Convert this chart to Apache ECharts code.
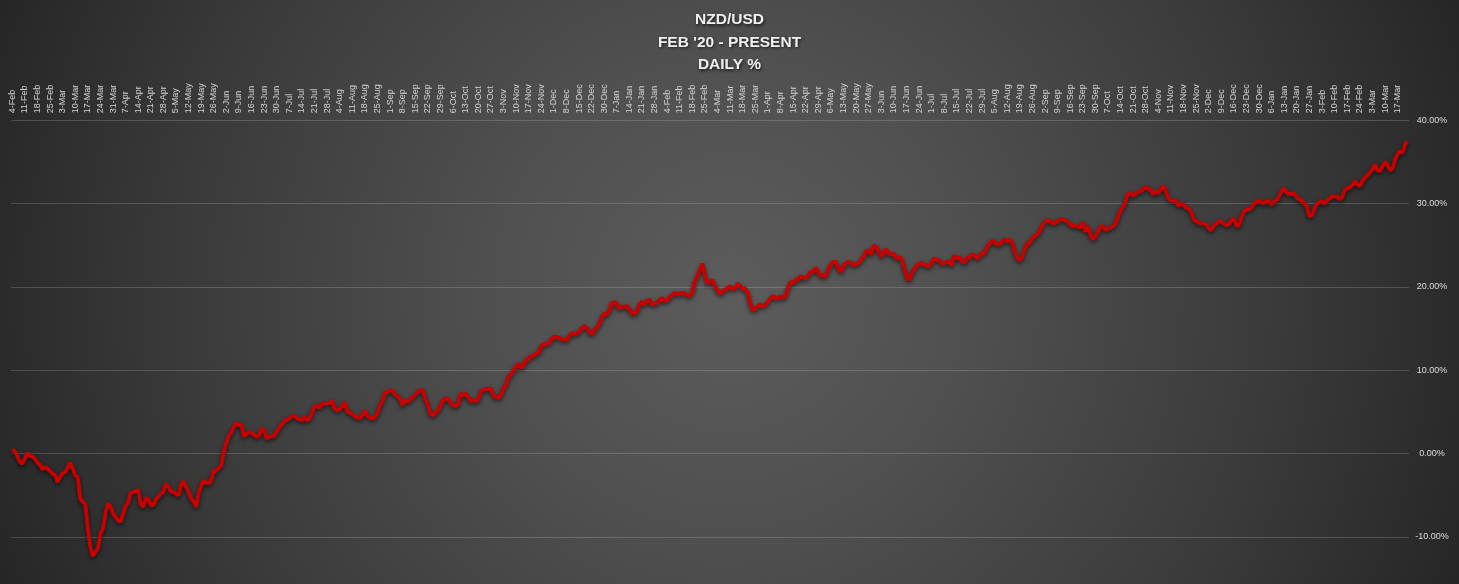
<!DOCTYPE html>
<html><head><meta charset="utf-8">
<script src="https://cdn.jsdelivr.net/npm/echarts@6/dist/echarts.min.js"></script>
<style>
html,body{margin:0;padding:0;width:1459px;height:584px;overflow:hidden;background:#333;}
#wrap{position:relative;width:1459px;height:584px;overflow:hidden;background:radial-gradient(circle farthest-corner at 50% 50%, #5c5c5c 0%, #505050 30%, #3a3a3a 70%, #262626 100%);}
#chart{position:absolute;left:0;top:0;width:1459px;height:660px;}
</style></head><body><div id="wrap"><div id="chart"></div></div>
<script>
// weekly tick labels (one every 5 trading days)
const weekLabels = ['4-Feb','11-Feb','18-Feb','25-Feb','3-Mar','10-Mar','17-Mar','24-Mar','31-Mar','7-Apr','14-Apr','21-Apr','28-Apr','5-May','12-May','19-May','26-May','2-Jun','9-Jun','16-Jun','23-Jun','30-Jun','7-Jul','14-Jul','21-Jul','28-Jul','4-Aug','11-Aug','18-Aug','25-Aug','1-Sep','8-Sep','15-Sep','22-Sep','29-Sep','6-Oct','13-Oct','20-Oct','27-Oct','3-Nov','10-Nov','17-Nov','24-Nov','1-Dec','8-Dec','15-Dec','22-Dec','30-Dec',
'7-Jan','14-Jan','21-Jan','28-Jan','4-Feb','11-Feb','18-Feb','25-Feb','4-Mar','11-Mar','18-Mar','25-Mar','1-Apr','8-Apr','15-Apr','22-Apr','29-Apr','6-May','13-May','20-May','27-May','3-Jun','10-Jun','17-Jun','24-Jun','1-Jul','8-Jul','15-Jul','22-Jul','29-Jul','5-Aug','12-Aug','19-Aug','26-Aug','2-Sep','9-Sep','16-Sep','23-Sep','30-Sep','7-Oct','14-Oct','21-Oct','28-Oct','4-Nov','11-Nov','18-Nov','25-Nov','2-Dec','9-Dec','16-Dec','23-Dec','30-Dec',
'6-Jan','13-Jan','20-Jan','27-Jan','3-Feb','10-Feb','17-Feb','24-Feb','3-Mar','10-Mar','17-Mar'];

// daily cumulative %
const pct2020 = [
0.5,0.3,-0.3,-1.0,-1.2,-0.6,0.1,-0.3,-0.35,-0.6,
-1.1,-1.3,-1.9,-1.6,-1.8,-2.1,-2.4,-2.6,-3.4,-2.8,
-2.4,-2.2,-1.7,-1.1,-1.8,-2.6,-2.8,-5.4,-5.8,-6.1,
-9.0,-11.2,-12.3,-11.8,-11.4,-9.6,-9.0,-7.2,-6.0,-6.3,
-7.2,-7.6,-8.0,-8.2,-7.2,-6.3,-5.9,-4.7,-4.6,-4.5,
-4.3,-6.1,-6.4,-5.4,-5.4,-6.2,-6.2,-5.5,-5.2,-4.8,
-4.6,-3.6,-4.0,-4.6,-4.6,-4.8,-5.0,-3.8,-3.3,-4.0,
-4.6,-5.4,-5.7,-6.4,-4.7,-3.9,-3.2,-3.5,-3.6,-3.2,
-2.0,-2.1,-1.7,-1.4,0.3,1.3,2.1,2.6,3.2,3.7,
3.4,3.5,2.0,2.4,2.6,
2.45,2.25,2.0,2.2,3.0,
2.8,1.8,2.0,2.1,2.1,2.7,3.1,3.5,3.8,4.1,
4.2,4.5,4.5,4.3,4.1,4.0,4.4,4.0,4.2,4.9,
5.6,5.8,5.5,6.0,6.0,6.0,6.1,6.3,5.4,5.2,
5.3,5.7,6.2,5.1,4.9,4.75,4.5,4.3,4.3,4.6,
5.2,4.5,4.3,4.25,4.35,4.9,5.8,6.3,7.3,7.4,
7.6,7.5,7.1,6.9,6.5,5.8,6.45,6.25,6.45,6.8,
7.05,7.4,7.6,7.6,6.5,5.9,4.75,4.6,4.9,5.2,
5.7,6.4,6.6,6.6,6.1,5.8,5.7,5.9,7.2,7.0,
7.2,6.8,6.3,6.4,6.3,6.5,7.4,7.65,7.7,7.8,
7.8,7.0,6.75,
6.7,7.0,7.9,8.2,9.2,9.5,10.0,
10.4,10.8,10.3,10.6,11.3,11.3,11.7,11.8,12.0,12.1,
12.9,13.1,13.2,13.2,13.7,14.0,14.0,13.9,13.7,13.7,
13.6,14.0,14.4,14.4,14.4,14.6,15.0,15.3,15.1,14.7,
14.3,14.8,15.1,15.5,16.3,16.8,16.7
];
const pct2021 = [
17.2,18.0,18.2,
18.0,17.4,17.6,17.6,17.7,17.4,16.8,16.8,17.1,17.9,
18.2,17.9,18.3,18.5,17.9,18.0,18.1,18.4,18.7,18.3,
18.4,18.8,19.0,19.3,19.1,19.2,19.3,19.2,19.0,18.9,
19.4,20.7,21.3,22.0,22.8,21.5,20.4,20.7,20.8,20.1,
19.6,19.2,19.4,19.7,19.9,20.1,19.7,19.9,20.4,20.1,
19.8,19.8,19.3,
18.0,17.2,17.4,17.7,17.9,17.7,17.8,
18.2,18.6,18.95,18.6,18.7,18.9,18.7,18.9,19.9,20.6,
20.5,20.8,20.9,21.3,21.1,21.0,21.4,21.8,21.8,22.3,
21.8,21.3,21.4,21.3,22.1,22.7,23.0,23.0,22.2,21.8,
22.5,22.9,23.0,22.9,22.6,22.8,22.8,23.3,23.6,24.3,
24.4,23.9,25.0,24.8,24.3,23.6,24.2,24.5,24.0,23.9,
24.0,23.4,23.6,23.4,22.4,21.3,20.8,21.6,22.1,22.5,
22.8,22.9,22.7,22.5,22.5,22.9,23.4,23.3,23.2,22.8,
22.8,23.0,23.0,22.6,23.8,23.4,23.6,23.1,22.9,23.5,
23.5,23.9,23.8,23.4,23.7,24.1,24.1,24.8,25.2,25.5,
25.4,25.1,
25.1,25.4,25.7,25.5,25.7,25.3,24.2,23.5,
23.2,23.6,24.6,25.2,25.3,25.9,26.1,26.3,26.8,27.4,
27.8,28.0,27.9,27.6,27.7,27.9,28.1,28.1,28.0,27.8,
27.5,27.3,27.4,27.2,27.1,27.8,26.6,27.3,26.3,25.7,
26.1,26.6,27.2,27.3,26.8,27.0,27.1,27.3,27.6,28.4,
29.2,29.6,30.3,31.2,31.2,31.0,31.2,31.4,31.5,31.7,
32.0,31.8,31.6,31.1,31.5,31.25,31.8,32.1,31.5,30.6,
30.35,30.4,30.3,29.7,30.0,29.9,29.45,29.4,29.0,28.1,
27.9,27.7,27.6,27.6,27.5,27.0,26.8,27.3,27.6,27.9,
27.8,27.6,27.4,27.5,28.0,28.2,27.3,27.4,28.4,29.1,
29.3,
29.3,29.5,30.0,30.2,30.4,30.1
];
const pct2022 = [
30.1,30.4,30.2,
29.9,30.3,30.4,30.9,31.6,31.8,31.3,31.15,31.2,31.2,
30.7,30.5,30.35,30.0,29.6,28.5,28.6,29.4,30.0,30.2,
30.3,30.0,30.4,30.6,30.9,30.9,30.8,30.5,30.8,31.6,
31.85,31.95,32.2,32.7,32.3,32.1,32.7,33.1,33.4,33.7,
34.1,34.7,34.0,33.9,34.5,35.0,34.6,34.0,34.2,35.3,
35.9,36.3,36.1,37.2,37.4
];

const values = pct2020.concat(pct2021, pct2022);
const categories = values.map((v, i) => (i % 5 === 0 && weekLabels[i / 5]) ? weekLabels[i / 5] : '');

const chart = echarts.init(document.getElementById('chart'), null, {renderer: 'canvas'});
chart.setOption({
  backgroundColor: 'transparent',
  animation: false,
  title: {
    text: "NZD/USD\nFEB '20 - PRESENT\nDAILY %",
    left: 'center',
    top: 3.5,
    textStyle: {
      color: '#f0f0f0', fontSize: 15.5, fontWeight: 'bold', fontFamily: 'Liberation Sans',
      lineHeight: 22.6, align: 'center',
      textShadowColor: 'rgba(0,0,0,0.65)', textShadowBlur: 3, textShadowOffsetX: 1, textShadowOffsetY: 1.5
    }
  },
  grid: {left: 11, right: 50, top: 120.3, height: 500, containLabel: false},
  xAxis: {
    type: 'category',
    position: 'top',
    data: categories,
    boundaryGap: true,
    axisLine: {show: false},
    axisTick: {show: false},
    splitLine: {show: false},
    axisLabel: {
      interval: 0, rotate: 90, margin: 7,
      color: '#d4d4d4', fontSize: 9, fontFamily: 'Liberation Sans'
    }
  },
  yAxis: {
    type: 'value',
    position: 'right',
    min: -20, max: 40, interval: 10,
    axisLine: {show: false},
    axisTick: {show: false},
    splitLine: {lineStyle: {color: 'rgba(255,255,255,0.17)', width: 1}},
    axisLabel: {
      margin: 23, align: 'center',
      color: '#dedede', fontSize: 9, fontFamily: 'Liberation Sans',
      formatter: v => v.toFixed(2) + '%'
    }
  },
  series: [{
    type: 'line',
    data: values,
    showSymbol: false,
    symbol: 'none',
    lineStyle: {
      color: '#c80000', width: 3.8,
      shadowColor: 'rgba(0,0,0,0.6)', shadowBlur: 4, shadowOffsetY: 2
    }
  }]
});
</script>
</body></html>
